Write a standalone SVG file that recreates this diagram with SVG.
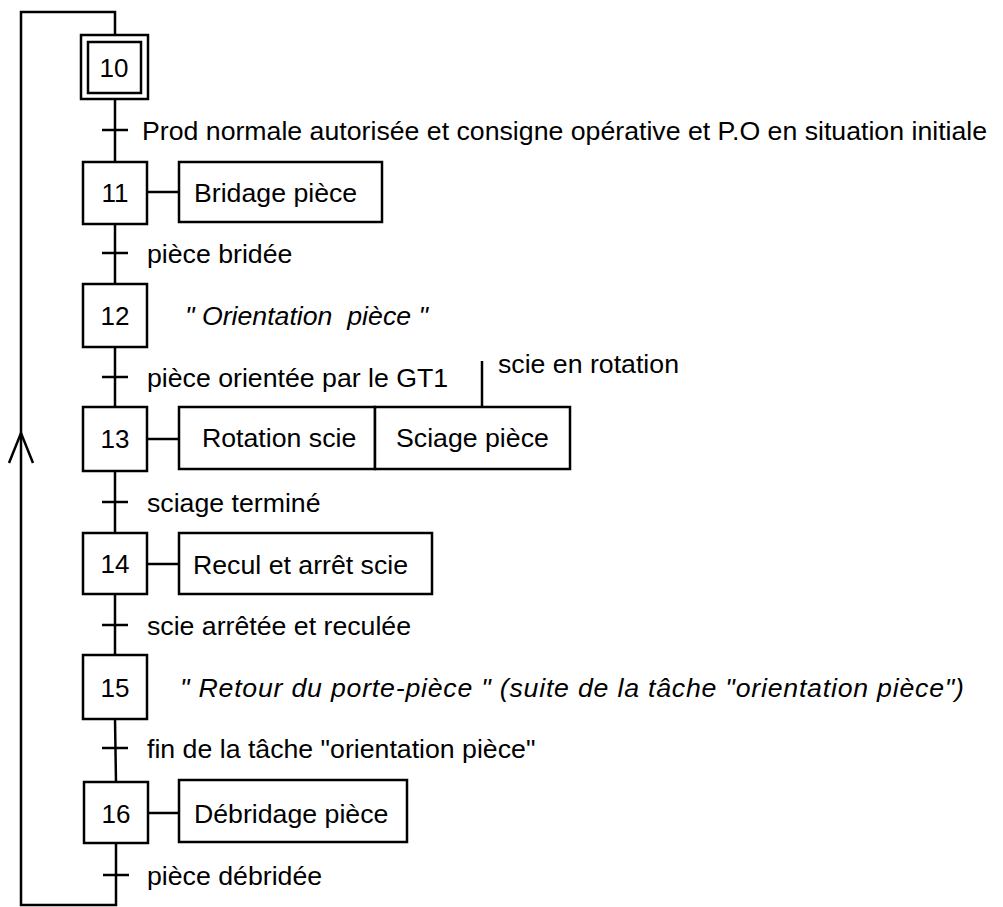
<svg xmlns="http://www.w3.org/2000/svg" width="1003" height="907" viewBox="0 0 1003 907">
<style>
.box{fill:#fff;stroke:#000;stroke-width:2.5}
.ln{fill:none;stroke:#000;stroke-width:2.5}
.num{font-family:"Liberation Sans",Arial,sans-serif;font-size:26px;text-anchor:middle;fill:#000}
.t{font-family:"Liberation Sans",Arial,sans-serif;font-size:26.7px;fill:#000;white-space:pre}
.i{font-style:italic}
</style>
<g id="connectors">
<polyline class="ln" points="115,35 115,12 21,12 21,905 116,905 116,843"/>
<polyline class="ln" points="9,463 21,433 33,463"/>
<line class="ln" x1="115" y1="99" x2="115" y2="162"/>
<line class="ln" x1="115" y1="224" x2="115" y2="284"/>
<line class="ln" x1="115" y1="347" x2="115" y2="407"/>
<line class="ln" x1="115" y1="471" x2="115" y2="533"/>
<line class="ln" x1="115" y1="594" x2="115" y2="655"/>
<line class="ln" x1="115" y1="719" x2="116" y2="782"/>
<line class="ln" x1="147" y1="192" x2="179" y2="192"/>
<line class="ln" x1="147" y1="439" x2="179" y2="439"/>
<line class="ln" x1="147" y1="564" x2="179" y2="564"/>
<line class="ln" x1="148" y1="813" x2="179" y2="813"/>
<line class="ln" x1="482" y1="361" x2="482" y2="407"/>
</g>
<g id="transitions">
<line class="ln" x1="102" y1="130" x2="128" y2="130"/>
<text class="t" x="142" y="140">Prod normale autorisée et consigne opérative et P.O en situation initiale</text>
<line class="ln" x1="102" y1="253" x2="128" y2="253"/>
<text class="t" x="147" y="263">pièce bridée</text>
<line class="ln" x1="102" y1="377" x2="128" y2="377"/>
<text class="t" x="147" y="387">pièce orientée par le GT1</text>
<text class="t" x="498" y="373">scie en rotation</text>
<line class="ln" x1="102" y1="502" x2="128" y2="502"/>
<text class="t" x="147" y="512">sciage terminé</text>
<line class="ln" x1="102" y1="625" x2="128" y2="625"/>
<text class="t" x="147" y="635">scie arrêtée et reculée</text>
<line class="ln" x1="102" y1="748" x2="128" y2="748"/>
<text class="t" x="147" y="758">fin de la tâche "orientation pièce"</text>
<line class="ln" x1="103" y1="875" x2="129" y2="875"/>
<text class="t" x="147" y="885">pièce débridée</text>
</g>
<g id="step10">
<rect class="box" x="81" y="35" width="67" height="64"/>
<rect class="box" x="88" y="42" width="53" height="51"/>
<text class="num" x="114" y="77">10</text>
</g>
<g id="step11">
<rect class="box" x="83" y="162" width="64" height="62"/>
<text class="num" x="115" y="202">11</text>
</g>
<g id="action11">
<rect class="box" x="179" y="162" width="203" height="60"/>
<text class="t" x="194" y="202">Bridage pièce</text>
</g>
<g id="step12">
<rect class="box" x="83" y="284" width="64" height="63"/>
<text class="num" x="115" y="325">12</text>
</g>
<g id="action12">
<text class="t i" x="185" y="325">" Orientation  pièce "</text>
</g>
<g id="step13">
<rect class="box" x="83" y="407" width="64" height="64"/>
<text class="num" x="115" y="448">13</text>
</g>
<g id="action13">
<rect class="box" x="179" y="407" width="196" height="62"/>
<text class="t" x="202" y="447">Rotation scie</text>
<rect class="box" x="375" y="407" width="195" height="62"/>
<text class="t" x="396" y="447">Sciage pièce</text>
</g>
<g id="step14">
<rect class="box" x="83" y="533" width="64" height="61"/>
<text class="num" x="115" y="573">14</text>
</g>
<g id="action14">
<rect class="box" x="179" y="533" width="253" height="61"/>
<text class="t" x="193" y="574">Recul et arrêt scie</text>
</g>
<g id="step15">
<rect class="box" x="83" y="655" width="64" height="64"/>
<text class="num" x="115" y="697">15</text>
</g>
<g id="action15">
<text class="t i" x="180" y="697" textLength="784" lengthAdjust="spacing">" Retour du porte-pièce " (suite de la tâche "orientation pièce")</text>
</g>
<g id="step16">
<rect class="box" x="84" y="782" width="64" height="61"/>
<text class="num" x="116" y="823">16</text>
</g>
<g id="action16">
<rect class="box" x="179" y="780" width="228" height="62"/>
<text class="t" x="194" y="823">Débridage pièce</text>
</g>
</svg>
